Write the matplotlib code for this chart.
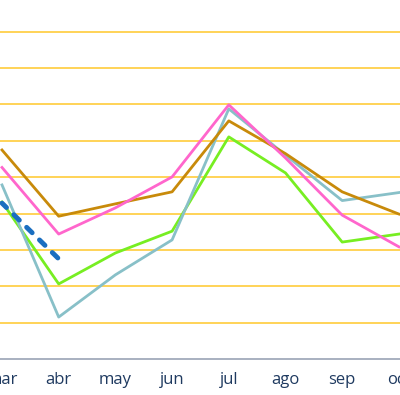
import numpy as np
import matplotlib
matplotlib.use("Agg")
import matplotlib.pyplot as plt

months = ["ene", "feb", "mar", "abr", "may", "jun", "jul", "ago", "sep", "oct", "nov", "dic"]
shown = ["mar", "abr", "may", "jun", "jul", "ago", "sep", "oct"]

brown = [5.75, 3.93, 4.27, 4.60, 6.55, 5.65, 4.60, 3.99]
pink = [5.27, 3.44, 4.16, 5.01, 6.99, 5.53, 3.96, 3.09]
teal = [4.79, 1.16, 2.32, 3.28, 6.88, 5.61, 4.36, 4.58]
green = [4.32, 2.07, 2.92, 3.52, 6.11, 5.12, 3.22, 3.44]
blue_dashed = [4.29, 2.76]

x = np.array([months.index(m) for m in shown])

fig = plt.figure(figsize=(4.0, 3.95), dpi=100)
ax = fig.add_axes([0, 0.0904, 1, 0.9096])

for v in range(1, 10):
    ax.axhline(v, color="#ffd04a", lw=1.3, zorder=0)

ax.plot(x, green, color="#77ee22", lw=2, zorder=2)
ax.plot(x, teal, color="#88c0c8", lw=2, zorder=3)
ax.plot(x, brown, color="#c88a0a", lw=2, zorder=4)
ax.plot(x, pink, color="#ff66cc", lw=2, zorder=5)
ax.plot(x[:2], blue_dashed, color="#1a6ec0", lw=3.5, ls=(0.3, (1.6, 2.1)),
        dash_capstyle="round", zorder=6)

ax.set_xlim(2 - 2.0 / 56.7, 2 - 2.0 / 56.7 + 400 / 56.7)
ax.set_ylim(0, 9.87)
ax.set_xticks(x)
ax.set_xticklabels(shown, fontsize=12, color="#1f3a60", family="Open Sans")
ax.tick_params(axis="x", length=0, pad=9)
ax.set_yticks([])
for s in ["left", "right", "top"]:
    ax.spines[s].set_visible(False)
ax.spines["bottom"].set_color("#9aa3b5")
ax.spines["bottom"].set_linewidth(1.2)

fig.savefig("out.png", dpi=100)
